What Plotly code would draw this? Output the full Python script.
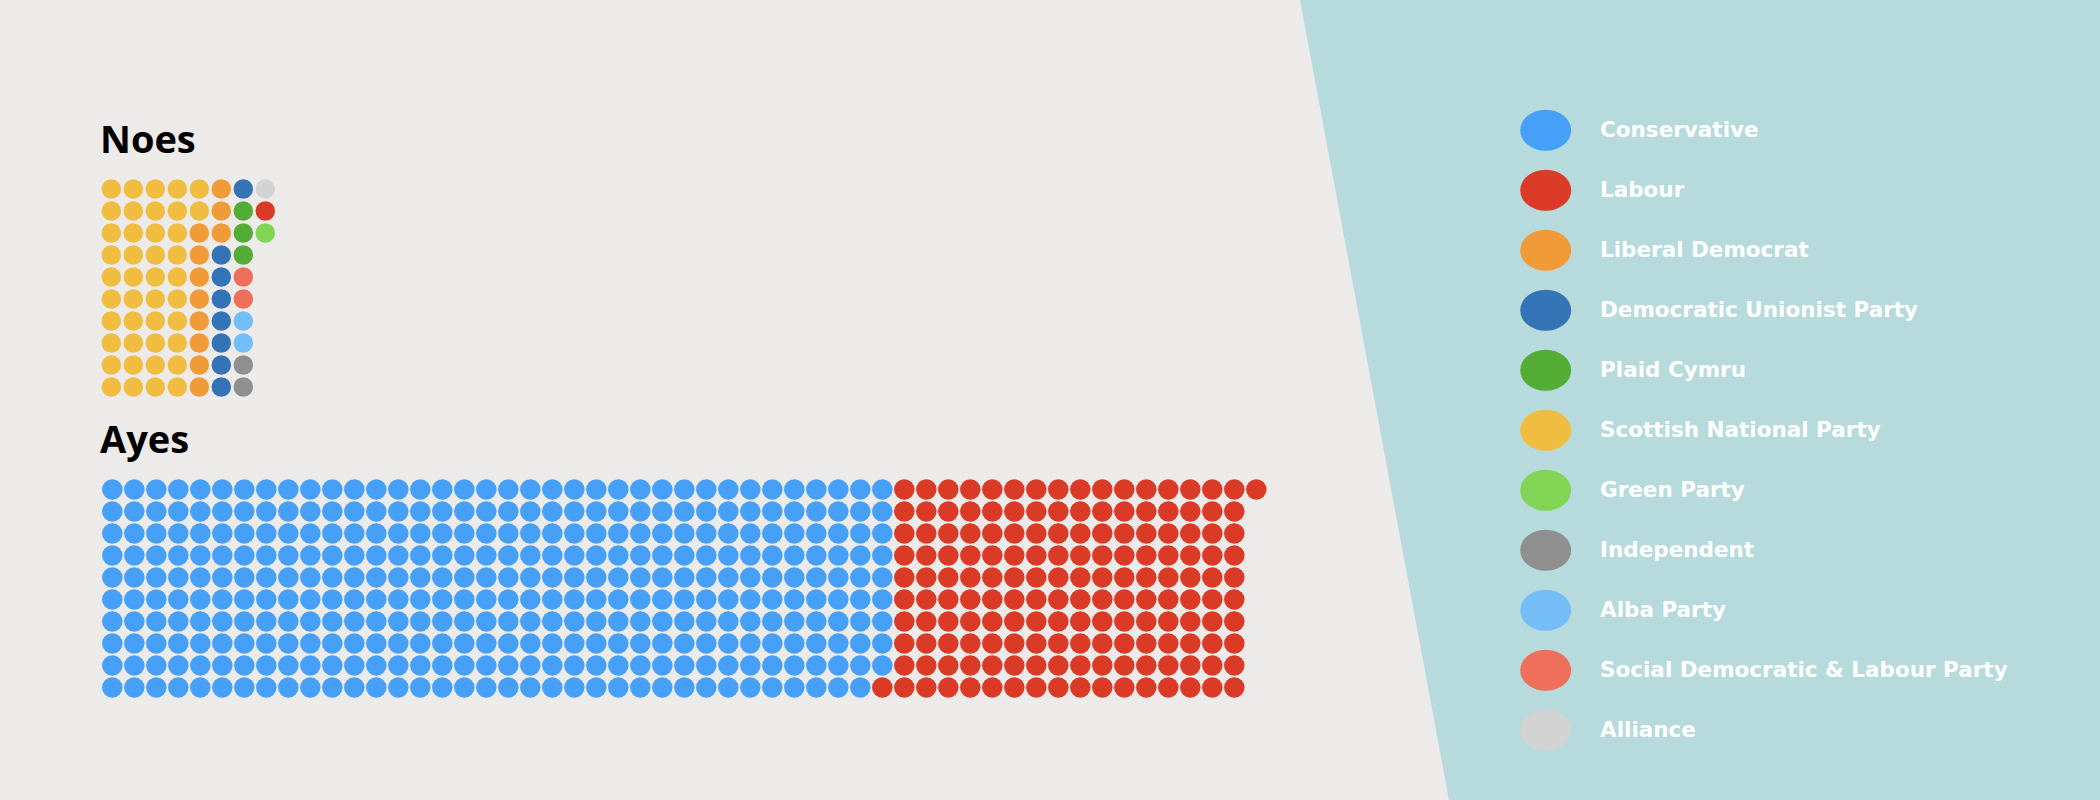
import plotly.graph_objects as go

# ---- data ----
parties = ["Conservative", "Labour", "Liberal Democrat", "Democratic Unionist Party",
           "Plaid Cymru", "Scottish National Party", "Green Party", "Independent",
           "Alba Party", "Social Democratic & Labour Party", "Alliance"]
party_colors = ["#47A0F7", "#DB3A27", "#F09A38", "#3473B6", "#53AD35", "#F0BD41",
                "#82D454", "#8F8F8F", "#73BEF7", "#EE6F5A", "#D3D3D3"]

ayes_parties = ["Conservative", "Labour"]
ayes_counts = [359, 162]

noes_parties = ["Scottish National Party", "Liberal Democrat", "Democratic Unionist Party",
                "Plaid Cymru", "Social Democratic & Labour Party", "Alba Party",
                "Independent", "Alliance", "Labour", "Green Party"]
noes_counts = [42, 11, 8, 3, 2, 2, 2, 1, 1, 1]

group_titles = ["Noes", "Ayes"]

# ---- layout constants (pixels) ----
W, H = 2100, 800
BG = "#ECEBE9"
PANEL = "#B7DADD"
STEP = 22
ROWS = 10
color_of = dict(zip(parties, party_colors))

fig = go.Figure()


def add_waffle(names, counts, x0, y0, size):
    idx = 0
    for name, n in zip(names, counts):
        xs, ys = [], []
        for _ in range(n):
            col, row = divmod(idx, ROWS)
            xs.append(x0 + col * STEP)
            ys.append(y0 + row * STEP)
            idx += 1
        fig.add_trace(go.Scatter(
            x=xs, y=ys, mode="markers", name=name, showlegend=False,
            marker=dict(size=size, color=color_of[name], line=dict(width=0)),
            hovertemplate=name + "<extra></extra>"))


add_waffle(noes_parties, noes_counts, 111.3, 189, 19.5)
add_waffle(ayes_parties, ayes_counts, 112.3, 489.5, 20.5)

# background panel on the right
fig.add_shape(type="path", path="M 1300,0 L 2100,0 L 2100,800 L 1449,800 Z",
              xref="x", yref="y", fillcolor=PANEL, line=dict(width=0), layer="below")

# group titles
for title, ty in zip(group_titles, [137.5, 438]):
    fig.add_annotation(x=98, y=ty, xref="x", yref="y", text=title, showarrow=False,
                       xanchor="left", yanchor="middle",
                       font=dict(family="Open Sans", size=38, color="#000000", weight="bold"))

# custom legend
LEG_X, LEG_Y0, LEG_DY = 1545.7, 130.3, 60.0
for i, (name, col) in enumerate(zip(parties, party_colors)):
    cy = LEG_Y0 + i * LEG_DY
    fig.add_shape(type="circle", xref="x", yref="y", x0=LEG_X - 25.5, x1=LEG_X + 25.5,
                  y0=cy - 20.5, y1=cy + 20.5, fillcolor=col, line=dict(width=0))
    fig.add_annotation(x=1598, y=cy - 1, xref="x", yref="y", text=name, showarrow=False,
                       xanchor="left", yanchor="middle",
                       font=dict(family="DejaVu Sans", size=21.5, color="#FFFFFF", weight="bold"))

fig.update_layout(
    width=W, height=H, margin=dict(l=0, r=0, t=0, b=0),
    paper_bgcolor=BG, plot_bgcolor=BG, showlegend=False,
    xaxis=dict(range=[0, W], visible=False, fixedrange=True),
    yaxis=dict(range=[H, 0], visible=False, fixedrange=True),
)

fig.write_html("out.html", config={"displayModeBar": False})
